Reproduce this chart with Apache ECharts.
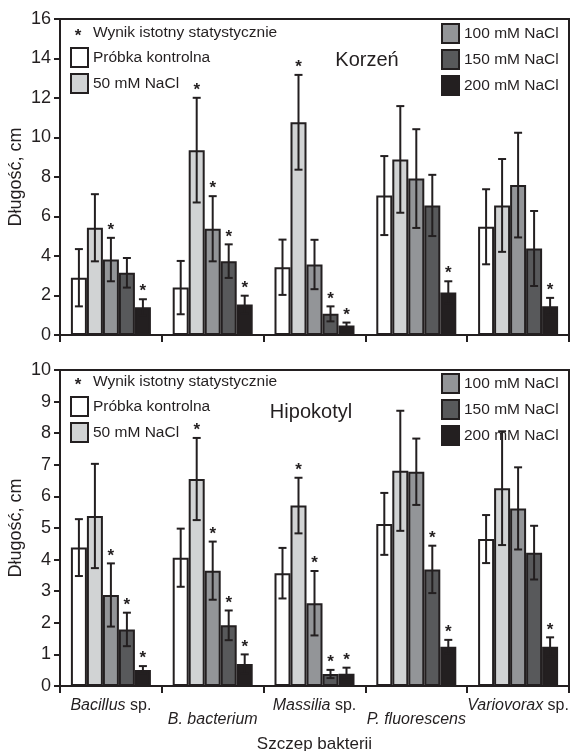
<!DOCTYPE html>
<html><head><meta charset="utf-8">
<script src="https://cdn.jsdelivr.net/npm/echarts@6/dist/echarts.min.js"></script>
<style>html,body{margin:0;padding:0;background:#fff}#c{width:579px;height:751px}</style>
</head><body><div id="c"></div>
<script>
// ---- data ----
const categories = ['Bacillus sp.', 'B. bacterium', 'Massilia sp.', 'P. fluorescens', 'Variovorax sp.'];
const categoryItalic = ['Bacillus', 'B. bacterium', 'Massilia', 'P. fluorescens', 'Variovorax'];
const categorySuffix = [' sp.', '', ' sp.', '', ' sp.'];
const seriesNames = ['Próbka kontrolna', '50 mM NaCl', '100 mM NaCl', '150 mM NaCl', '200 mM NaCl'];
const sigLabel = 'Wynik istotny statystycznie';
const yAxisName = 'Długość, cm';
const xAxisName = 'Szczep bakterii';
const panelTitles = ['Korzeń', 'Hipokotyl'];

// Korzeń (root)
const rootControl = [2.90, 2.40, 3.43, 7.06, 5.48];
const root50 = [5.43, 9.36, 10.77, 8.89, 6.56];
const root100 = [3.82, 5.38, 3.57, 7.92, 7.59];
const root150 = [3.15, 3.74, 1.07, 6.56, 4.38];
const root200 = [1.41, 1.54, 0.48, 2.15, 1.46];
const rootErrControl = [1.45, 1.35, 1.40, 2.00, 1.90];
const rootErr50 = [1.70, 2.65, 2.40, 2.70, 2.35];
const rootErr100 = [1.10, 1.65, 1.25, 2.50, 2.65];
const rootErr150 = [0.75, 0.85, 0.38, 1.55, 1.90];
const rootErr200 = [0.40, 0.45, 0.15, 0.57, 0.42];
const rootSigControl = [0, 0, 0, 0, 0];
const rootSig50 = [0, 1, 1, 0, 0];
const rootSig100 = [1, 1, 0, 0, 0];
const rootSig150 = [0, 1, 1, 0, 0];
const rootSig200 = [1, 1, 1, 1, 1];

// Hipokotyl (hypocotyl)
const hypoControl = [4.38, 4.06, 3.57, 5.13, 4.65];
const hypo50 = [5.38, 6.55, 5.71, 6.81, 6.26];
const hypo100 = [2.88, 3.65, 2.62, 6.78, 5.62];
const hypo150 = [1.79, 1.92, 0.38, 3.69, 4.22];
const hypo200 = [0.51, 0.70, 0.39, 1.24, 1.24];
const hypoErrControl = [0.90, 0.92, 0.80, 0.98, 0.76];
const hypoErr50 = [1.65, 1.30, 0.88, 1.90, 1.80];
const hypoErr100 = [1.00, 0.92, 1.02, 1.05, 1.30];
const hypoErr150 = [0.53, 0.47, 0.13, 0.75, 0.85];
const hypoErr200 = [0.12, 0.30, 0.19, 0.22, 0.30];
const hypoSigControl = [0, 0, 0, 0, 0];
const hypoSig50 = [0, 1, 1, 0, 0];
const hypoSig100 = [1, 1, 1, 0, 0];
const hypoSig150 = [1, 1, 1, 1, 0];
const hypoSig200 = [1, 1, 1, 1, 1];

const rootTicks = { min: 0, max: 16, interval: 2 };
const hypoTicks = { min: 0, max: 10, interval: 1 };

// ---- styling ----
const FONT = 'Liberation Sans, Arial, Helvetica, sans-serif';
const INK = '#231f20';
const colors = ['#ffffff', '#d1d3d4', '#939598', '#58595b', '#231f20'];
const BW = 16;

const panels = [
  { vals: [rootControl, root50, root100, root150, root200],
    errs: [rootErrControl, rootErr50, rootErr100, rootErr150, rootErr200],
    sigs: [rootSigControl, rootSig50, rootSig100, rootSig150, rootSig200], ticks: rootTicks },
  { vals: [hypoControl, hypo50, hypo100, hypo150, hypo200],
    errs: [hypoErrControl, hypoErr50, hypoErr100, hypoErr150, hypoErr200],
    sigs: [hypoSigControl, hypoSig50, hypoSig100, hypoSig150, hypoSig200], ticks: hypoTicks }
];

function errRenderer(k) {
  return function (params, api) {
    const ci = api.value(0), v = api.value(1), e = api.value(2), s = api.value(3);
    const c = api.coord([ci, v]);
    const x = c[0] + (k - 2) * BW;
    const top = api.coord([ci, v + e])[1];
    const bot = api.coord([ci, Math.max(v - e, 0)])[1];
    const ls = { stroke: INK, lineWidth: 2 };
    const children = [
      { type: 'line', shape: { x1: x, y1: top, x2: x, y2: bot }, style: ls },
      { type: 'line', shape: { x1: x - 4, y1: top, x2: x + 4, y2: top }, style: ls },
      { type: 'line', shape: { x1: x - 4, y1: bot, x2: x + 4, y2: bot }, style: ls }
    ];
    if (s) children.push({ type: 'text', x: x, y: top + 1,
      style: { text: '*', fill: INK, fontSize: 17, fontWeight: 'bold', fontFamily: FONT, align: 'center', verticalAlign: 'bottom' } });
    return { type: 'group', children };
  };
}

const grids = [
  { left: 60, right: 10, top: 19, height: 316, show: true, borderColor: INK, borderWidth: 2, containLabel: false, outerBoundsMode: 'none' },
  { left: 60, right: 10, top: 370, height: 316, show: true, borderColor: INK, borderWidth: 2, containLabel: false, outerBoundsMode: 'none' }
];

const xAxes = [0, 1].map(g => ({
  type: 'category', gridIndex: g, data: categories, boundaryGap: true,
  axisLine: { lineStyle: { color: INK, width: 2 } },
  axisTick: { show: true, interval: 0, length: 7, lineStyle: { color: INK, width: 2 } },
  axisLabel: g === 0 ? { show: false } : {
    interval: 0, margin: 13, lineHeight: 14, color: INK, fontFamily: FONT, fontSize: 16,
    formatter: (val, idx) => (idx % 2 === 1 ? '\n' : '') + '{i|' + categoryItalic[idx] + '}' + (categorySuffix[idx] ? '{n|' + categorySuffix[idx] + '}' : ''),
    rich: { i: { fontStyle: 'italic', fontSize: 16, fontFamily: FONT, color: INK, lineHeight: 14 },
            n: { fontSize: 16, fontFamily: FONT, color: INK, lineHeight: 14 } }
  },
  name: g === 1 ? xAxisName : '', nameLocation: 'middle', nameGap: 50, nameMoveOverlap: false,
  nameTextStyle: { fontSize: 17, fontFamily: FONT, color: INK }
}));

const yAxes = [0, 1].map(g => ({
  type: 'value', gridIndex: g, min: panels[g].ticks.min, max: panels[g].ticks.max, interval: panels[g].ticks.interval,
  axisLine: { show: true, lineStyle: { color: INK, width: 2 } },
  axisTick: { show: true, length: 6, lineStyle: { color: INK, width: 2 } },
  axisLabel: { fontSize: 18, fontFamily: FONT, color: INK, margin: 9 },
  splitLine: { show: false },
  name: yAxisName, nameLocation: 'middle', nameGap: 35, nameMoveOverlap: false,
  nameTextStyle: { fontSize: 18, fontFamily: FONT, color: INK }
}));

const series = [];
panels.forEach((p, g) => {
  for (let k = 0; k < 5; k++) {
    series.push({ type: 'bar', name: seriesNames[k], xAxisIndex: g, yAxisIndex: g,
      data: p.vals[k], barWidth: BW, barGap: '0%',
      itemStyle: { color: colors[k], borderColor: INK, borderWidth: 2 }, z: 2 });
  }
  for (let k = 0; k < 5; k++) {
    series.push({ type: 'custom', name: seriesNames[k] + ' err', xAxisIndex: g, yAxisIndex: g,
      renderItem: errRenderer(k), z: 3,
      data: p.vals[k].map((v, i) => [i, v, p.errs[k][i], p.sigs[k][i]]) });
  }
});

const legendCommon = {
  orient: 'vertical', icon: 'rect', itemWidth: 17, itemHeight: 19, itemGap: 5, padding: 0,
  itemStyle: { borderColor: INK, borderWidth: 2 },
  textStyle: { fontSize: 15.5, fontFamily: FONT, color: INK },
  selectedMode: false
};
const legends = [
  Object.assign({ left: 70, top: 47, data: seriesNames.slice(0, 2) }, legendCommon),
  Object.assign({ left: 441, top: 23, data: seriesNames.slice(2) }, legendCommon),
  Object.assign({ left: 70, top: 396, data: seriesNames.slice(0, 2) }, legendCommon),
  Object.assign({ left: 441, top: 373, data: seriesNames.slice(2) }, legendCommon)
];

function txt(x, y, text, size, align, extra) {
  return { type: 'text', x: x, y: y, z: 10,
    style: Object.assign({ text: text, fill: INK, fontSize: size, fontFamily: FONT, align: align, verticalAlign: 'middle' }, extra || {}) };
}
const graphics = [
  txt(78, 36, '*', 17, 'center', { fontWeight: 'bold' }),
  txt(93, 33, sigLabel, 15.5, 'left'),
  txt(367, 60, panelTitles[0], 20, 'center'),
  txt(78, 385, '*', 17, 'center', { fontWeight: 'bold' }),
  txt(93, 382, sigLabel, 15.5, 'left'),
  txt(311, 412, panelTitles[1], 20, 'center')
];

const chart = echarts.init(document.getElementById('c'), null, { renderer: 'canvas' });
chart.setOption({
  animation: false, backgroundColor: '#fff',
  grid: grids, xAxis: xAxes, yAxis: yAxes, legend: legends, series: series, graphic: graphics
});
</script></body></html>
